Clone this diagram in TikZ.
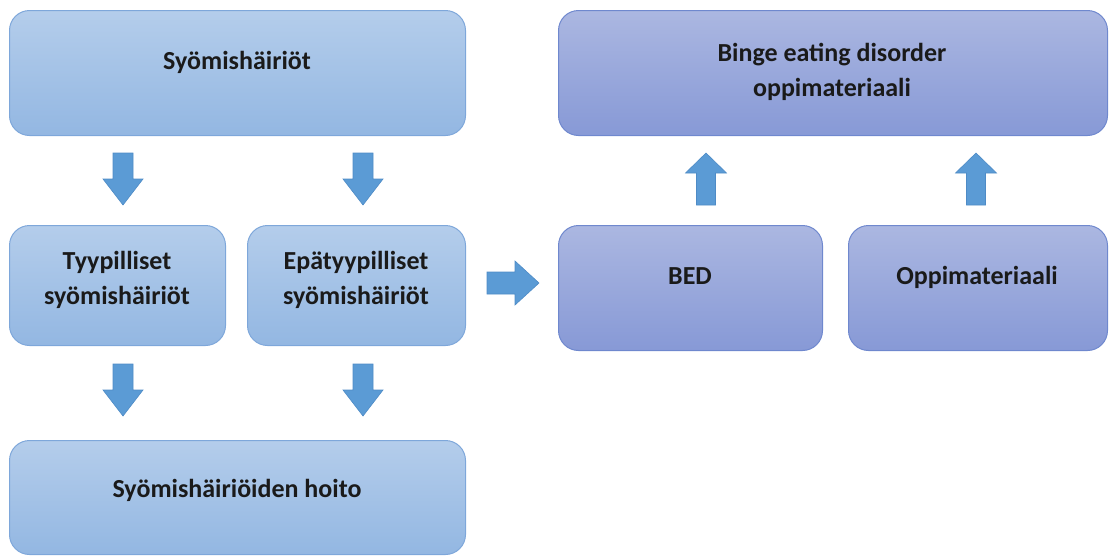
\documentclass[tikz,border=0pt]{standalone}
\usepackage{fontspec}
\setmainfont{Carlito}
\definecolor{ltop}{HTML}{B4CDEB}
\definecolor{lbot}{HTML}{93B7E2}
\definecolor{lborder}{HTML}{7EA7DA}
\definecolor{ptop}{HTML}{ABB7E1}
\definecolor{pbot}{HTML}{8799D6}
\definecolor{pborder}{HTML}{6F88CE}
\definecolor{arrfill}{HTML}{5B9BD5}
\definecolor{arrdraw}{HTML}{4E8BC6}
\definecolor{txtcol}{HTML}{1A1A1A}
\tikzset{
  boxbase/.style={rectangle, rounded corners=20pt, line width=1pt, inner sep=0pt, anchor=north west},
  lbox/.style={boxbase, draw=lborder, top color=ltop, bottom color=lbot},
  pbox/.style={boxbase, draw=pborder, top color=ptop, bottom color=pbot},
  txt/.style={font=\fontsize{26}{35}\selectfont\bfseries, text=txtcol, align=center, inner sep=0pt},
  blkarrow/.style={fill=arrfill, draw=arrdraw, line width=0.6pt, line join=miter}
}
\begin{document}
\begin{tikzpicture}[x=1pt, y=-1pt]
\useasboundingbox (0,0) rectangle (1110,555);
% boxes
\node[lbox, minimum width=456pt, minimum height=125pt] (top) at (9,10) {};
\node[lbox, minimum width=216pt, minimum height=120pt] (typ) at (9,225) {};
\node[lbox, minimum width=218pt, minimum height=120pt] (epa) at (247,225) {};
\node[lbox, minimum width=456pt, minimum height=114pt] (hoito) at (9,440) {};
\node[pbox, minimum width=549pt, minimum height=125pt] (binge) at (558,10) {};
\node[pbox, minimum width=264pt, minimum height=125pt] (bed) at (558,225) {};
\node[pbox, minimum width=259pt, minimum height=125pt] (opp) at (848,225) {};
% texts
\node[txt] (ttop) at (237,62) {Syömishäiriöt};
\node[txt] (ttyp) at (117,280) {Tyypilliset\\syömishäiriöt};
\node[txt] (tepa) at (356,280) {Epätyypilliset\\syömishäiriöt};
\node[txt] (thoito) at (237,490) {Syömishäiriöiden hoito};
\node[txt] (tbinge) at (832,72) {Binge eating disorder\\oppimateriaali};
\node[txt] (tbed) at (690,276) {BED};
\node[txt] (topp) at (977,277) {Oppimateriaali};
% down arrows
\foreach \nm/\cx/\ty in {d1/123/153, d2/363/153, d3/123/364, d4/363/364}{
  \coordinate (\nm) at (\cx,\ty);
  \draw[blkarrow, shift={(\nm)}] (-10,0) -- (10,0) -- (10,26) -- (20,26) -- (0,52) -- (-20,26) -- (-10,26) -- cycle;
}
% up arrows
\foreach \nm/\cx/\ty in {u1/706/153, u2/976/153}{
  \coordinate (\nm) at (\cx,\ty);
  \draw[blkarrow, shift={(\nm)}] (-9.5,52) -- (9.5,52) -- (9.5,20) -- (20.5,20) -- (0,0) -- (-20.5,20) -- (-9.5,20) -- cycle;
}
% right arrow
\coordinate (r1) at (487,283);
\draw[blkarrow, shift={(r1)}] (0,-11) -- (28,-11) -- (28,-22) -- (52,0) -- (28,22) -- (28,11) -- (0,11) -- cycle;
\end{tikzpicture}
\end{document}
